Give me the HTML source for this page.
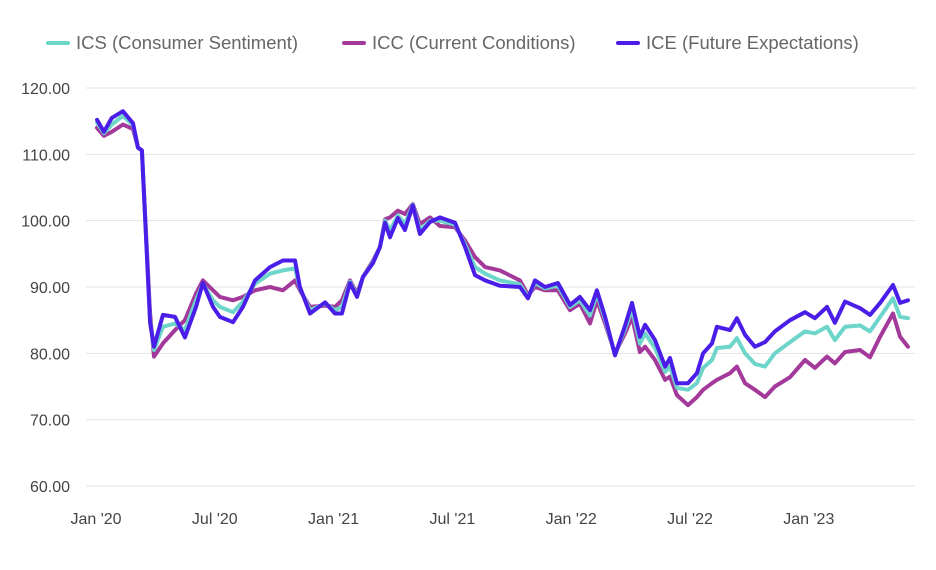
<!DOCTYPE html>
<html><head><meta charset="utf-8"><style>
body{margin:0;background:#fff;}
svg text{font-family:"Liberation Sans",sans-serif;}
</style></head><body>
<svg id="chart" width="936" height="565" xmlns="http://www.w3.org/2000/svg">
<g id="legend">
 <g><line x1="48" y1="43" x2="68" y2="43" stroke="#6dd5c9" stroke-width="4" stroke-linecap="round"/><text x="76" y="49" font-size="18.5" fill="#666">ICS (Consumer Sentiment)</text></g>
 <g><line x1="344" y1="43" x2="364" y2="43" stroke="#a3399b" stroke-width="4" stroke-linecap="round"/><text x="372" y="49" font-size="18.5" fill="#666">ICC (Current Conditions)</text></g>
 <g><line x1="618" y1="43" x2="638" y2="43" stroke="#4a1ee8" stroke-width="4" stroke-linecap="round"/><text x="646" y="49" font-size="18.5" fill="#666">ICE (Future Expectations)</text></g>
</g>
<g id="grid"></g>
<g id="yaxis"></g>
<g id="xaxis"></g>
<g id="series"></g>
</svg>
<script>
const months = [0.05,0.4,0.8,1.36,1.87,2.12,2.32,2.73,2.93,3.38,3.99,4.49,5.05,5.4,5.91,6.26,6.92,7.42,8.03,8.79,9.44,10.05,10.3,10.81,11.57,12.07,12.42,12.83,13.18,13.48,13.99,14.34,14.6,14.85,15.25,15.6,16.0,16.36,16.87,17.37,18.13,18.64,19.14,19.65,20.4,21.41,21.82,22.17,22.68,23.33,23.94,24.44,24.95,25.3,25.71,26.21,26.72,27.07,27.47,27.73,28.23,28.74,28.99,29.34,29.9,30.35,30.66,31.11,31.36,32.02,32.37,32.78,33.28,33.79,34.29,35.05,35.81,36.31,36.92,37.32,37.83,38.59,39.09,39.6,40.25,40.61,41.01];
const iceValues = [115.2,113.4,115.5,116.5,114.7,111,110.6,84.6,81,85.8,85.5,82.4,87,90.6,87,85.5,84.7,87,91,93,94,94,90,86,87.7,86,86,90.6,88.5,91.5,93.6,96,99.7,97.5,100.4,98.6,102.3,98,99.8,100.5,99.7,96,91.8,91,90.2,90,88.3,91,90,90.6,87.3,88.5,86.5,89.5,85.5,79.7,84.2,87.6,82.5,84.3,82,78,79.3,75.5,75.5,77,80,81.5,84,83.5,85.3,82.8,81,81.7,83.3,85,86.2,85.3,87,84.6,87.8,86.8,85.8,87.6,90.3,87.6,88];
const iccValues = [114,112.8,113.4,114.5,113.8,111,110.6,86,79.5,81.5,83.5,85,89,91,89.5,88.5,88,88.5,89.5,90,89.5,91,89.5,87,87.2,87,88,91,89,91.5,94,96,100.2,100.5,101.5,101,102.5,99.5,100.5,99.2,99,97,94.5,93,92.5,91,88.8,90,89.5,89.5,86.5,87.5,84.5,88,84.5,80,83,85.5,80.2,81,79,76,76.5,73.7,72.2,73.4,74.5,75.5,76,77,78,75.5,74.5,73.4,75,76.4,79,77.8,79.5,78.5,80.2,80.5,79.4,82.5,86,82.5,81];
const icsValues = [114.8,113.2,114.5,115.8,114.4,111,110.6,85,80.5,84,84.5,83.5,88,90.5,88,87,86.2,87.8,90.5,92,92.5,92.8,89.8,86.5,87.5,86.5,87,90.8,88.7,91.5,93.8,96,100,98.5,100.8,99.5,102.4,98.6,100,100,99.4,96.4,93,92,91,90.4,88.5,90.6,89.8,90.2,87,88,85.7,89,85.1,79.8,83.7,86.7,81.5,83,80.8,77.2,78,74.8,74.5,75.5,77.8,79,80.8,81,82.3,80,78.4,78,80,81.7,83.3,83,84,82,84,84.2,83.3,85.5,88.3,85.5,85.3];
const yTicks = [60,70,80,90,100,110,120];
const xTickMonths = [0,6,12,18,24,30,36];
const xTickLabels = ["Jan '20","Jul '20","Jan '21","Jul '21","Jan '22","Jul '22","Jan '23"];

const NS="http://www.w3.org/2000/svg";
function yScale(v){return 486-(v-60)*(486-88)/60;}
function xScale(m){return 96+m*19.8;}
function mk(tag,attrs,parent){const e=document.createElementNS(NS,tag);for(const k in attrs)e.setAttribute(k,attrs[k]);parent.appendChild(e);return e;}
const grid=document.getElementById('grid'),ya=document.getElementById('yaxis'),xa=document.getElementById('xaxis'),ser=document.getElementById('series');
yTicks.forEach(t=>{
 const y=yScale(t);
 const l=mk('line',{x1:86,x2:915,y1:y,y2:y,stroke:'#e3e3e3','stroke-width':1},grid);
 
 
 const tx=mk('text',{x:70,y:y+6,'text-anchor':'end','font-size':16,fill:'#444'},ya);
 tx.textContent=t.toFixed(2);
 
 
});
xTickMonths.forEach((m,i)=>{
 const tx=mk('text',{x:xScale(m),y:524,'text-anchor':'middle','font-size':16,fill:'#444'},xa);
 tx.textContent=xTickLabels[i];
 
 
});
function drawLine(vals,color,name){
 const d=vals.map((v,i)=>(i?'L':'M')+xScale(months[i]).toFixed(1)+' '+yScale(v).toFixed(1)).join(' ');
 const p=mk('path',{d:d,fill:'none',stroke:color,'stroke-width':4,'stroke-linejoin':'round','stroke-linecap':'round'},ser);
 
 
}
drawLine(iccValues,'#a3399b','icc-line');
drawLine(icsValues,'#6dd5c9','ics-line');
drawLine(iceValues,'#4a1ee8','ice-line');
</script>
</body></html>
